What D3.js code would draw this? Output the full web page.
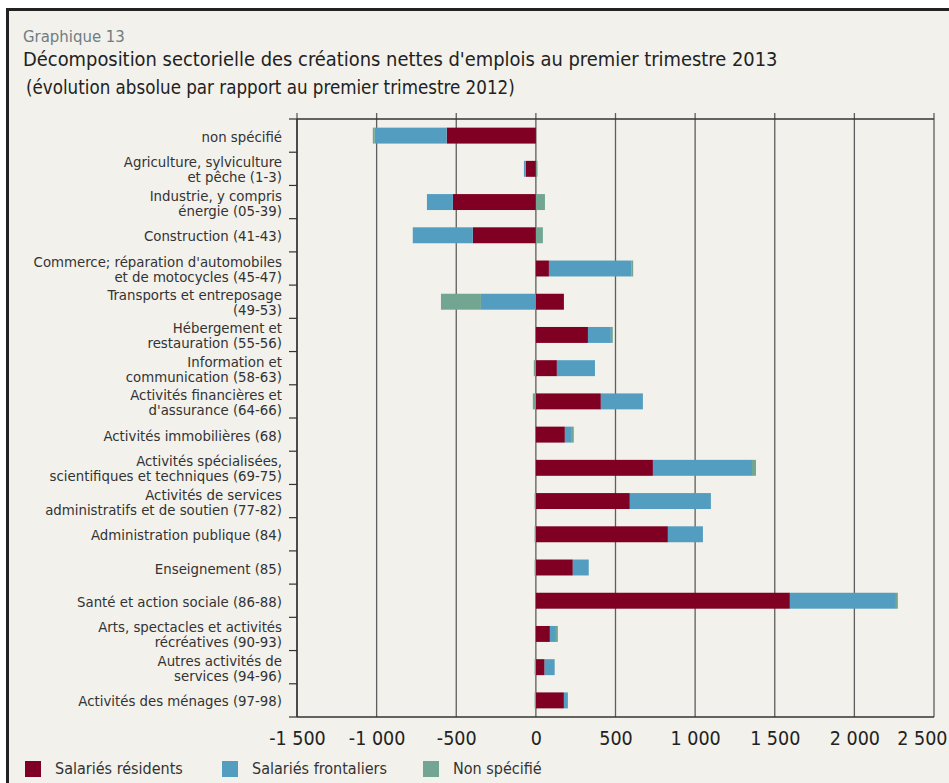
<!DOCTYPE html>
<html>
<head>
<meta charset="utf-8">
<script src="https://cdn.jsdelivr.net/npm/d3@7"></script>
<style>
  html, body { margin: 0; padding: 0; background: #fff; }
  svg { display: block; }
  text { font-family: "DejaVu Sans Condensed", "Liberation Sans Narrow", sans-serif; }
</style>
</head>
<body>
<script>
// sectors, top to bottom (lines of each label)
const sectors = [
  ["non spécifié"],
  ["Agriculture, sylviculture", "et pêche (1-3)"],
  ["Industrie, y compris", "énergie (05-39)"],
  ["Construction (41-43)"],
  ["Commerce; réparation d'automobiles", "et de motocycles (45-47)"],
  ["Transports et entreposage", "(49-53)"],
  ["Hébergement et", "restauration (55-56)"],
  ["Information et", "communication (58-63)"],
  ["Activités financières et", "d'assurance (64-66)"],
  ["Activités immobilières (68)"],
  ["Activités spécialisées,", "scientifiques et techniques (69-75)"],
  ["Activités de services", "administratifs et de soutien (77-82)"],
  ["Administration publique (84)"],
  ["Enseignement (85)"],
  ["Santé et action sociale (86-88)"],
  ["Arts, spectacles et activités", "récréatives (90-93)"],
  ["Autres activités de", "services (94-96)"],
  ["Activités des ménages (97-98)"]
];
const residents   = [-560, -63, -521, -396, 82, 176, 327, 132, 408, 182, 735, 590, 829, 232, 1595, 88, 55, 176];
const frontaliers = [-452, -12, -163, -377, 517, -345, 144, 239, 264, 44, 622, 509, 220, 100, 666, 38, 63, 25];
const nonSpecifie = [-12, 10, 57, 44, 12, -251, 12, -13, -19, 12, 25, -8, -8, -8, 12, 12, -8, -8];

const seriesNames = ["Salariés résidents", "Salariés frontaliers", "Non spécifié"];
const seriesColors = ["#7f0022", "#539ec0", "#72a592"];
const tickValues = [-1500, -1000, -500, 0, 500, 1000, 1500, 2000, 2500];
const tickLabels = ["-1 500", "-1 000", "-500", "0", "500", "1 000", "1 500", "2 000", "2 500"];

const W = 949, H = 783;
const plot = {left: 297, right: 934, top: 119, bottom: 717};

const rows = sectors.map((s, i) => ({
  id: i, res: residents[i], fro: frontaliers[i], ns: nonSpecifie[i]
}));
const keys = ["res", "fro", "ns"];

const svg = d3.select("body").append("svg")
    .attr("width", W)
    .attr("height", H);

// frame
svg.append("rect")
    .attr("x", 7).attr("y", 9)
    .attr("width", W - 7).attr("height", H - 9)
    .attr("fill", "#f2f1eb");
svg.append("line")
    .attr("x1", 6).attr("x2", W).attr("y1", 9.5).attr("y2", 9.5)
    .attr("stroke", "#222").attr("stroke-width", 3);
svg.append("line")
    .attr("x1", 7.5).attr("x2", 7.5).attr("y1", 8).attr("y2", H)
    .attr("stroke", "#222").attr("stroke-width", 3);

// titles
svg.append("text")
    .attr("x", 23).attr("y", 42)
    .style("font-size", "16.6px")
    .style("fill", "#6d7d86")
    .text("Graphique 13");
svg.append("text")
    .attr("x", 23).attr("y", 66)
    .style("font-size", "19.9px")
    .style("fill", "#222")
    .text("Décomposition sectorielle des créations nettes d'emplois au premier trimestre 2013");
svg.append("text")
    .attr("x", 26).attr("y", 94)
    .style("font-size", "18.6px")
    .style("fill", "#222")
    .text("(évolution absolue par rapport au premier trimestre 2012)");

let x = d3.scaleLinear()
    .domain([-1500, 2500])
    .range([plot.left, plot.right]);
let y = d3.scaleBand()
    .domain(rows.map(d => d.id))
    .range([plot.top, plot.bottom])
    .paddingInner(0.52)
    .paddingOuter(0.26);

// gridlines (with small ticks above the top line)
svg.append("g").selectAll("line")
    .data(tickValues)
  .enter().append("line")
    .attr("x1", d => x(d)).attr("x2", d => x(d))
    .attr("y1", plot.top - 6).attr("y2", plot.bottom)
    .attr("stroke", "#5e5e5e")
    .attr("stroke-width", 1.3);

// bars
let stacked = d3.stack()
    .keys(keys)
    .offset(d3.stackOffsetDiverging)(rows);

svg.append("g").selectAll("g")
    .data(stacked)
  .enter().append("g")
    .attr("fill", (d, i) => seriesColors[i])
  .selectAll("rect")
    .data(d => d)
  .enter().append("rect")
    .attr("x", d => x(Math.min(d[0], d[1])))
    .attr("width", d => Math.abs(x(d[1]) - x(d[0])))
    .attr("y", d => y(d.data.id))
    .attr("height", y.bandwidth());

// frame lines of the plot
svg.append("line")
    .attr("x1", plot.left).attr("x2", plot.right)
    .attr("y1", plot.top).attr("y2", plot.top)
    .attr("stroke", "#333").attr("stroke-width", 1.5);
svg.append("line")
    .attr("x1", plot.left).attr("x2", plot.right)
    .attr("y1", plot.bottom).attr("y2", plot.bottom)
    .attr("stroke", "#333").attr("stroke-width", 1.5);
svg.append("line")
    .attr("x1", plot.left).attr("x2", plot.left)
    .attr("y1", plot.top).attr("y2", plot.bottom)
    .attr("stroke", "#333").attr("stroke-width", 1.5);

// category ticks on the left (between bands)
let step = y.step();
svg.append("g").selectAll("line")
    .data(d3.range(sectors.length + 1))
  .enter().append("line")
    .attr("x1", plot.left - 8).attr("x2", plot.left)
    .attr("y1", i => plot.top + i * step)
    .attr("y2", i => plot.top + i * step)
    .attr("stroke", "#333").attr("stroke-width", 1.2);

// category labels
let lab = svg.append("g").selectAll("text")
    .data(rows)
  .enter().append("text")
    .attr("text-anchor", "end")
    .style("font-size", "14.8px")
    .style("fill", "#333")
    .attr("y", d => y(d.id) + y.bandwidth() / 2 + 6 - (sectors[d.id].length - 1) * 7.5);
lab.selectAll("tspan")
    .data(d => sectors[d.id])
  .enter().append("tspan")
    .attr("x", 282)
    .attr("dy", (d, i) => i === 0 ? 0 : 15)
    .text(d => d);

// x axis labels
let xAxis = d3.axisBottom(x)
    .tickValues(tickValues)
    .tickSize(0)
    .tickPadding(0)
    .tickFormat((d, i) => tickLabels[i]);
let gx = svg.append("g")
    .attr("transform", "translate(0," + (plot.bottom + 14) + ")")
    .call(xAxis);
gx.select(".domain").remove();
gx.selectAll("text")
    .style("font-family", "\"DejaVu Sans Condensed\", sans-serif")
    .style("font-size", "19.5px")
    .style("fill", "#222");
// last label pushed inside the page, as in the original
gx.selectAll(".tick").filter(d => d === 2500).select("text")
    .attr("text-anchor", "end")
    .attr("x", 947 - x(2500));

// legend
let legendX = [25, 222, 423];
let leg = svg.append("g").selectAll("g")
    .data(seriesNames)
  .enter().append("g")
    .attr("transform", (d, i) => "translate(" + legendX[i] + ",761)");
leg.append("rect")
    .attr("width", 16).attr("height", 16)
    .attr("fill", (d, i) => seriesColors[i]);
leg.append("text")
    .attr("x", 30).attr("y", 13)
    .style("font-size", "16px")
    .style("fill", "#333")
    .text(d => d);
</script>
</body>
</html>
